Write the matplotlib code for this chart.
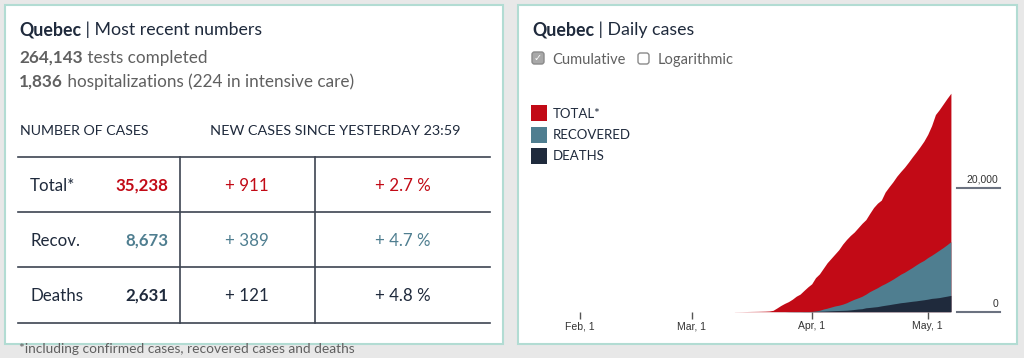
import matplotlib
matplotlib.use("Agg")
import matplotlib.pyplot as plt
from matplotlib.patches import Rectangle, FancyBboxPatch
import pandas as pd

# cumulative counts for Quebec, Mar 12 - May 7
dates = pd.date_range("2020-03-12", "2020-05-07", freq="D")
total = [10, 15, 20, 30, 40, 50, 60, 75, 90, 120,
         220, 600, 1000, 1340, 1630, 2020, 2500, 2840, 3430, 4000,
         4500, 5500, 6100, 7000, 7900, 8600, 9300, 10000, 10900, 11650,
         12300, 12850, 13550, 14250, 14850, 15850, 16800, 17500, 18000, 19300,
         20150, 20950, 21850, 22600, 23300, 24100, 24950, 25750, 26600, 27500,
         28600, 30000, 31800, 32600, 33500, 34400, 35238]
deaths = [0, 0, 0, 0, 0, 0, 0, 0, 1, 1,
          4, 5, 8, 8, 18, 22, 25, 25, 31, 33,
          36, 61, 75, 94, 121, 150, 175, 195, 216, 241,
          289, 360, 435, 487, 630, 688, 757, 820, 939, 1041,
          1134, 1243, 1340, 1446, 1515, 1599, 1682, 1750, 1840, 1923,
          2022, 2146, 2205, 2280, 2398, 2510, 2631]
recovered = [0, 0, 0, 0, 0, 0, 0, 0, 0, 0,
             0, 0, 0, 0, 0, 0, 0, 0, 0, 0,
             10, 50, 150, 330, 450, 600, 750, 850, 1000, 1200,
             1450, 1650, 1800, 2000, 2200, 2550, 2800, 3050, 3300, 3500,
             3750, 4000, 4300, 4600, 4850, 5150, 5450, 5800, 6100, 6350,
             6700, 6950, 7300, 7650, 7950, 8300, 8673]

tests_done = "264,143"
hosp = "1,836"
icu = "224"
row_names = ["Total*", "Recov.", "Deaths"]
row_counts = ["35,238", "8,673", "2,631"]
row_new = ["+ 911", "+ 389", "+ 121"]
row_pct = ["+ 2.7 %", "+ 4.7 %", "+ 4.8 %"]
legend_names = ["TOTAL*", "RECOVERED", "DEATHS"]
tick_dates = pd.to_datetime(["2020-02-01", "2020-03-01", "2020-04-01", "2020-05-01"])
tick_labels = ["Feb, 1", "Mar, 1", "Apr, 1", "May, 1"]
y_ticks = [0, 20000]

RED = "#c20a16"
TEAL = "#4f7e90"
NAVY = "#1f2a3c"
GREY = "#606060"
FONT = ["Lato", "DejaVu Sans"]

W, H = 1024, 358
fig = plt.figure(figsize=(W / 100, H / 100), dpi=100)
fig.patch.set_facecolor("#e8e8e8")

# background axes in pixel coords for panels and text
bg = fig.add_axes([0, 0, 1, 1])
bg.set_xlim(0, W)
bg.set_ylim(H, 0)
bg.axis("off")

for x0, x1 in [(5, 503), (518, 1017)]:
    bg.add_patch(Rectangle((x0, 5), x1 - x0, 339, facecolor="white",
                           edgecolor="#b2dcd3", lw=1.5))


def txt(x, y, s, **kw):
    kw.setdefault("family", FONT)
    kw.setdefault("va", "baseline")
    return bg.text(x, y, s, **kw)


def after(prev, y, s, **kw):
    kw.setdefault("family", FONT)
    return bg.annotate(s, xy=(1, y), xycoords=(prev, "data"), va="baseline", **kw)


# ---- left panel
t = txt(19, 35, "Quebec", fontsize=12.8, weight="bold", color=NAVY)
after(t, 35, " | Most recent numbers", fontsize=12.8, color=NAVY)
t = txt(19, 63, tests_done, fontsize=12.3, weight="bold", color=GREY)
after(t, 63, " tests completed", fontsize=12.3, color=GREY)
t = txt(19, 87, hosp, fontsize=12.3, weight="bold", color=GREY)
after(t, 87, " hospitalizations (" + icu + " in intensive care)", fontsize=12.3, color=GREY)

txt(20, 135, "NUMBER OF CASES", fontsize=10.2, color=NAVY)
txt(210, 135, "NEW CASES SINCE YESTERDAY 23:59", fontsize=10.4, color=NAVY)

line_kw = dict(color="#3d4452", lw=1.2)
for yy in [157, 212, 267, 323]:
    bg.plot([18, 490], [yy, yy], **line_kw)
for xx in [180, 315]:
    bg.plot([xx, xx], [157, 323], **line_kw)

row_colors = [RED, TEAL, NAVY]
for i in range(3):
    yb = 191 + 55 * i
    txt(30, yb, row_names[i], fontsize=12.2, color=NAVY)
    txt(168, yb, row_counts[i], fontsize=12.2, weight="bold", color=row_colors[i], ha="right")
    txt(247, yb, row_new[i], fontsize=12.2, color=row_colors[i], ha="center")
    txt(403, yb, row_pct[i], fontsize=12.2, color=row_colors[i], ha="center")

txt(19, 353, "*including confirmed cases, recovered cases and deaths", fontsize=9.9, color=GREY)

# ---- right panel
t = txt(532, 35, "Quebec", fontsize=12.8, weight="bold", color=NAVY)
after(t, 35, " | Daily cases", fontsize=12.8, color=NAVY)

bg.add_patch(FancyBboxPatch((532, 52), 12, 12, boxstyle="round,pad=0,rounding_size=2.5",
                            facecolor="#a8a8a8", edgecolor="#8a8a8a", lw=1))
bg.text(538, 58.5, "\u2713", family=["DejaVu Sans"], fontsize=7, color="white",
        ha="center", va="center")
txt(552, 64, "Cumulative", fontsize=10.5, color=GREY)
bg.add_patch(FancyBboxPatch((638, 53), 11, 11, boxstyle="round,pad=0,rounding_size=2.5",
                            facecolor="white", edgecolor="#8a8a8a", lw=1))
txt(658, 64, "Logarithmic", fontsize=10.5, color=GREY)

leg_colors = [RED, TEAL, NAVY]
for i in range(3):
    yc = 113 + 21.5 * i
    bg.add_patch(Rectangle((531, yc - 8), 16, 16, facecolor=leg_colors[i], lw=0))
    txt(553, yc + 4.5, legend_names[i], fontsize=9.5, color=NAVY)

# chart axes placed in pixels: Apr 1 at x=811.7, 3.867 px/day; 0 at y=311.7, 124 px per 20,000
L, R, T, B = 560, 1005, 88, 311.7
ax = fig.add_axes([L / W, 1 - B / H, (R - L) / W, (B - T) / H])
ax.patch.set_alpha(0)
apr1 = pd.Timestamp("2020-04-01")
ax.set_xlim(apr1 + pd.Timedelta(days=(L - 811.7) / 3.867),
            apr1 + pd.Timedelta(days=(R - 811.7) / 3.867))
ax.set_ylim(0, (B - T) * 20000 / 124)

stack_rd = [r + d for r, d in zip(recovered, deaths)]
ax.fill_between(dates, 0, total, color=RED, lw=0)
ax.fill_between(dates, 0, stack_rd, color=TEAL, lw=0)
ax.fill_between(dates, 0, deaths, color=NAVY, lw=0)

for spine in ax.spines.values():
    spine.set_visible(False)
ax.set_yticks([])
ax.set_xticks(tick_dates)
ax.set_xticklabels(tick_labels, family=["Liberation Sans"], fontsize=7.5, color="#333333")
ax.tick_params(axis="x", length=5, width=1, color="#555555", pad=2)

x_a = (957 - L) / (R - L)
x_b = (1000 - L) / (R - L)
for yv in y_ticks:
    ax.plot([x_a, x_b], [yv, yv], color="#6b7280", lw=1.5,
            transform=ax.get_yaxis_transform(), clip_on=False)
    ax.annotate(f"{yv:,}", xy=((998 - L) / (R - L), yv), xycoords=ax.get_yaxis_transform(),
                xytext=(0, 2), textcoords="offset points", ha="right", va="bottom",
                family=["Liberation Sans"], fontsize=7.5, color="#333333")

fig.savefig("out.png", dpi=100, facecolor=fig.get_facecolor())
